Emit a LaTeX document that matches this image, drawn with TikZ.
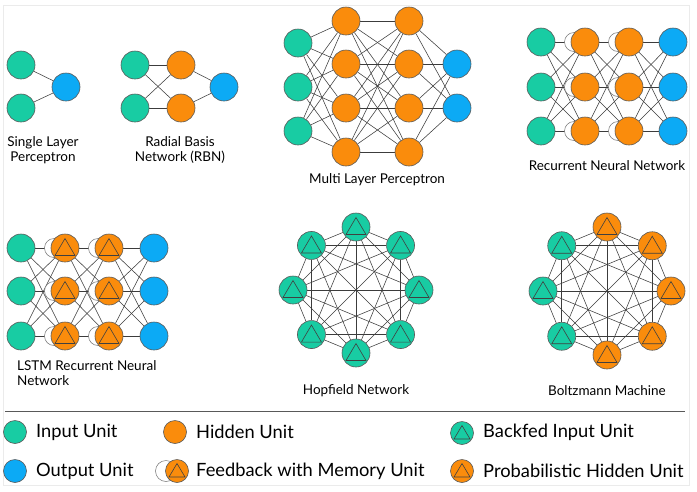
\documentclass[tikz,border=0pt]{standalone}
\usepackage{fontspec}
\setmainfont{Lato}
\usetikzlibrary{backgrounds}
\definecolor{cgreen}{RGB}{24,204,163}
\definecolor{corange}{RGB}{250,140,12}
\definecolor{cblue}{RGB}{12,170,245}
\definecolor{cedge}{RGB}{60,60,60}
\tikzset{
 unit/.style={circle, draw=black!65, line width=0.6pt, minimum size=28pt, inner sep=0pt},
 inu/.style={unit, fill=cgreen},
 hidu/.style={unit, fill=corange},
 outu/.style={unit, fill=cblue},
 memu/.style={circle, draw=black!55, fill=white, line width=0.5pt, minimum size=19pt, inner sep=0pt},
 tri/.style={path picture={\draw[black!75, line width=0.6pt] ([yshift=9.5pt]path picture bounding box.center) -- ++(-10pt,-17pt) -- ++(20pt,0pt) -- cycle;}},
 lunit/.style={unit, minimum size=23pt},
 ltri/.style={path picture={\draw[black!75, line width=0.6pt] ([yshift=7.5pt]path picture bounding box.center) -- ++(-8pt,-13.5pt) -- ++(16pt,0pt) -- cycle;}},
 edge/.style={draw=cedge, line width=0.55pt},
 lab/.style={font=\fontsize{13.5}{15}\selectfont, align=center, inner sep=0pt},
 leg/.style={font=\fontsize{18.3}{20}\selectfont, anchor=west, inner sep=0pt},
}
\begin{document}
\begin{tikzpicture}[x=1pt,y=-1pt]
\useasboundingbox (0,0) rectangle (697,491);
\begin{pgfonlayer}{background}
\fill[white] (0,0) rectangle (697,491);
\draw[black!8, line width=0.8pt] (3,5) rectangle (689,485);
\end{pgfonlayer}

% Single layer perceptron
\node[inu] (s1) at (21,65) {};
\node[inu] (s2) at (21,108) {};
\node[outu] (so) at (66,87) {};
\begin{pgfonlayer}{background}
\draw[edge] (s1) -- (so) (s2) -- (so);
\end{pgfonlayer}
\node[lab] (slab) at (43,150) {Single Layer\\Perceptron};

% RBN
\node[inu] (b1) at (135,65) {};
\node[inu] (b2) at (135,108) {};
\node[hidu] (bh1) at (181,65) {};
\node[hidu] (bh2) at (181,108) {};
\node[outu] (bo) at (224,87) {};
\begin{pgfonlayer}{background}
\foreach \i in {1,2}{\foreach \j in {1,2}{\draw[edge] (b\i) -- (bh\j);}
\draw[edge] (bh\i) -- (bo);}
\end{pgfonlayer}
\node[lab] (blab) at (180,150) {Radial Basis\\Network (RBN)};

% MLP
\foreach \i/\y in {1/43,2/87,3/131}{\node[inu] (mi\i) at (298,\y) {};}
\foreach \i/\y in {1/21,2/64,3/108,4/152}{\node[hidu] (mh\i) at (346,\y) {};
 \node[hidu] (mk\i) at (409,\y) {};}
\foreach \i/\y in {1/64,2/108}{\node[outu] (mo\i) at (457,\y) {};}
\begin{pgfonlayer}{background}
\foreach \j in {1,...,4}{
 \foreach \i in {1,2,3}{\draw[edge] (mi\i) -- (mh\j);}
 \foreach \i in {1,...,4}{\draw[edge] (mh\i) -- (mk\j);}
 \foreach \i in {1,2}{\draw[edge] (mk\j) -- (mo\i);}}
\end{pgfonlayer}
\node[lab] (mlab) at (377,180) {Multi Layer Perceptron};

% RNN
\foreach \i/\y in {1/42,2/87,3/131}{
 \node[inu] (ri\i) at (541,\y) {};
 \node[memu] (rm\i) at (574,\y) {};
 \node[hidu] (rh\i) at (585,\y) {};
 \node[memu] (rn\i) at (618,\y) {};
 \node[hidu] (rk\i) at (629,\y) {};
 \node[outu] (ro\i) at (673,\y) {};}
\begin{pgfonlayer}{background}
\foreach \i in {1,2,3}{\foreach \j in {1,2,3}{
 \draw[edge] (ri\i) -- (rh\j);
 \draw[edge] (rh\i) -- (rk\j);
 \draw[edge] (rk\i) -- (ro\j);}}
\end{pgfonlayer}
\node[lab] (rlab) at (607,166) {Recurrent Neural Network};

% LSTM
\foreach \i/\y in {1/248,2/291,3/336}{
 \node[inu] (li\i) at (21,\y) {};
 \node[memu] (lm\i) at (54,\y) {};
 \node[hidu, tri] (lh\i) at (65,\y) {};
 \node[memu] (ln\i) at (98,\y) {};
 \node[hidu, tri] (lk\i) at (109,\y) {};
 \node[outu] (lo\i) at (154,\y) {};}
\begin{pgfonlayer}{background}
\foreach \i in {1,2,3}{\foreach \j in {1,2,3}{
 \draw[edge] (li\i) -- (lh\j);
 \draw[edge] (lh\i) -- (lk\j);
 \draw[edge] (lk\i) -- (lo\j);}}
\end{pgfonlayer}
\node[lab, align=left, anchor=north west] (llab) at (17,360) {LSTM Recurrent Neural\\Network};

% Hopfield
\foreach \k/\a in {1/270,2/315,3/0,4/45,5/90,6/135,7/180,8/225}{
 \node[inu, tri] (hp\k) at ({356+63*cos(\a)},{290+63*sin(\a)}) {};}
\begin{pgfonlayer}{background}
\foreach \i in {1,...,7}{\pgfmathtruncatemacro\s{\i+1}
 \foreach \j in {\s,...,8}{\draw[edge] (hp\i) -- (hp\j);}}
\end{pgfonlayer}
\node[lab] (hlab) at (356,391) {Hopfield Network};

% Boltzmann
\foreach \k/\a/\c in {1/270/corange,2/315/corange,3/0/corange,4/45/corange,5/90/corange,6/135/cgreen,7/180/cgreen,8/225/cgreen}{
 \node[unit, fill=\c, tri] (bz\k) at ({607+64*cos(\a)},{291+64*sin(\a)}) {};}
\begin{pgfonlayer}{background}
\foreach \i in {1,...,7}{\pgfmathtruncatemacro\s{\i+1}
 \foreach \j in {\s,...,8}{\draw[edge] (bz\i) -- (bz\j);}}
\end{pgfonlayer}
\node[lab] (zlab) at (607,391) {Boltzmann Machine};

% Legend
\draw[black!65, line width=0.8pt] (5,411) -- (685,411);
\node[lunit, fill=cgreen] (lg1) at (15,432) {};
\node[leg] (tg1) at (36,432) {Input Unit};
\node[lunit, fill=corange] (lg2) at (175,432) {};
\node[leg] (tg2) at (196,432) {Hidden Unit};
\node[lunit, fill=cgreen, ltri] (lg3) at (462,433) {};
\node[leg] (tg3) at (483,432) {Backfed Input Unit};
\node[lunit, fill=cblue] (lg4) at (15,471) {};
\node[leg] (tg4) at (36,471) {Output Unit};
\node[memu, minimum size=21pt] (lg5m) at (166,471) {};
\node[lunit, fill=corange, ltri] (lg5) at (177,471) {};
\node[leg] (tg5) at (196,471) {Feedback with Memory Unit};
\node[lunit, fill=corange, ltri] (lg6) at (462,471) {};
\node[leg] (tg6) at (483,471) {Probabilistic Hidden Unit};
\end{tikzpicture}
\end{document}
